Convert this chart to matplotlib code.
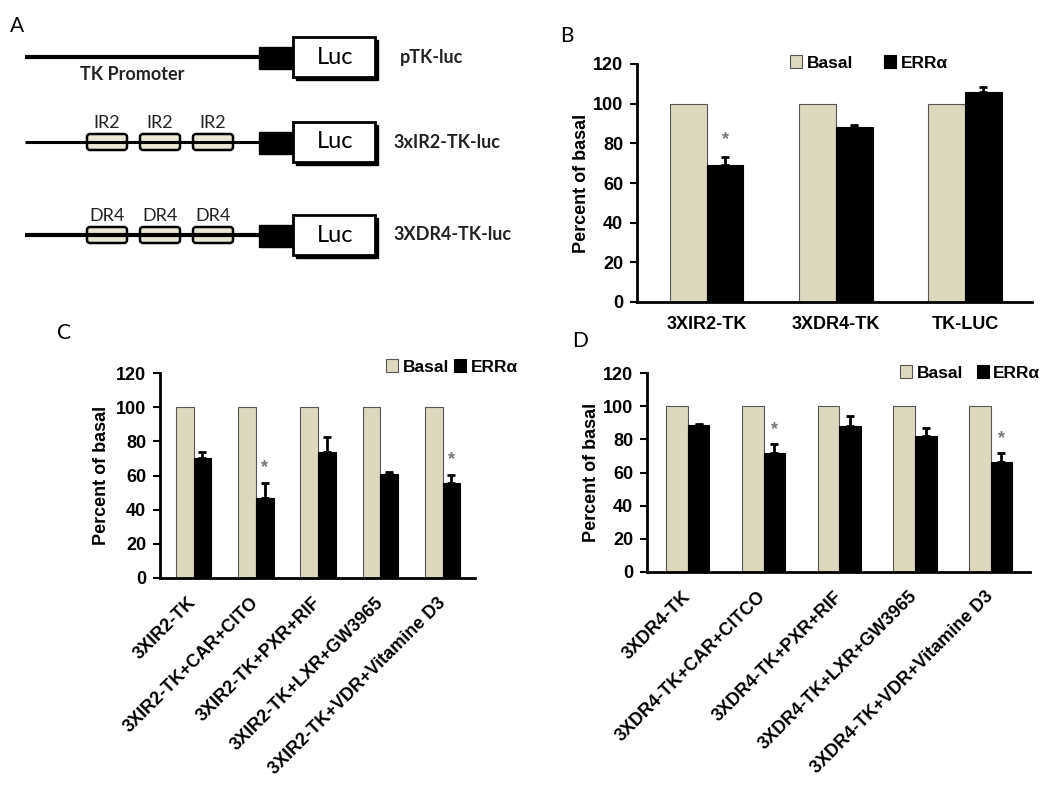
import matplotlib
matplotlib.use("Agg")
import matplotlib.pyplot as plt
from matplotlib.patches import Rectangle, FancyBboxPatch
import numpy as np

W, H = 1050, 792
plt.rcParams["font.family"] = ["Liberation Sans", "DejaVu Sans"]
plt.rcParams["font.weight"] = "bold"
plt.rcParams["axes.labelweight"] = "bold"

BASAL_C = "#DDD8C0"

# panel B
b_labels = ["3XIR2-TK", "3XDR4-TK", "TK-LUC"]
b_basal = [100, 100, 100]
b_err = [69, 88, 106]
b_sd = [4, 1, 2.5]
b_star = [True, False, False]

# panel C
c_labels = ["3XIR2-TK", "3XIR2-TK+CAR+CITO", "3XIR2-TK+PXR+RIF",
            "3XIR2-TK+LXR+GW3965", "3XIR2-TK+VDR+Vitamine D3"]
c_basal = [100, 100, 100, 100, 100]
c_err = [70, 47, 73.5, 61, 55.5]
c_sd = [3.5, 8.5, 9, 1, 5]
c_star = [False, True, False, False, True]

# panel D
d_labels = ["3XDR4-TK", "3XDR4-TK+CAR+CITCO", "3XDR4-TK+PXR+RIF",
            "3XDR4-TK+LXR+GW3965", "3XDR4-TK+VDR+Vitamine D3"]
d_basal = [100, 100, 100, 100, 100]
d_err = [88.5, 72, 88, 82, 66.5]
d_sd = [1, 5, 6, 5, 5]
d_star = [False, True, False, False, True]

# panel A constructs
constructs = ["pTK-luc", "3xIR2-TK-luc", "3XDR4-TK-luc"]
elements = [None, "IR2", "DR4"]

fig = plt.figure(figsize=(W / 100, H / 100), dpi=100)


def px_axes(l, t, r, b):
    return fig.add_axes([l / W, 1 - b / H, (r - l) / W, (b - t) / H])


# ---- panel A (schematic) drawn in pixel coordinates
axa = px_axes(0, 0, W, H)
axa.set_xlim(0, W)
axa.set_ylim(H, 0)
axa.axis("off")
afont = ["Lato", "DejaVu Sans"]
row_y = [57, 142, 235]
for k, (name, el) in enumerate(zip(constructs, elements)):
    y = row_y[k]
    axa.plot([25, 262], [y, y], color="black", lw=3 if k != 1 else 2.2,
             solid_capstyle="butt")
    axa.add_patch(Rectangle((259, y - 10), 34, 22, color="black"))
    axa.add_patch(Rectangle((296, y - 17), 82, 40, color="black"))
    axa.add_patch(Rectangle((293, y - 20), 82, 40, facecolor="white",
                            edgecolor="black", lw=2))
    axa.text(335, y, "Luc", ha="center", va="center", fontsize=17,
             family=afont, fontweight="normal")
    axa.text(400 if k == 0 else 393, y, name, ha="left", va="center",
             fontsize=13, family=afont, fontweight="bold", color="#222")
    if el:
        for x0 in [85, 138, 191]:
            axa.add_patch(FancyBboxPatch((x0 + 2, y - 8), 40, 16,
                                         boxstyle="round,pad=0,rounding_size=3",
                                         facecolor="#EAE6D6", edgecolor="black",
                                         lw=1.8))
            axa.text(x0 + 22, y - 19, el, ha="center", va="center",
                     fontsize=13, family=afont, fontweight="normal",
                     color="#222")
axa.text(80, 74, "TK Promoter", ha="left", va="center", fontsize=13,
         family=afont, fontweight="bold", color="#222")
for letter, (lx, ly) in zip("ABCD", [(17, 26), (567, 36), (64, 333), (580, 341)]):
    axa.text(lx, ly, letter, ha="center", va="center", fontsize=15,
             family=afont, fontweight="normal")


def bar_panel(ax, labels, basal, err, sd, star, fs, rot, leg_pos, colsp):
    n = len(labels)
    x = np.arange(n)
    w = 0.285
    ax.bar(x - w / 2, basal, w, color=BASAL_C, edgecolor="#555", lw=0.8,
           label="Basal", zorder=2)
    ax.bar(x + w / 2, err, w, color="black", edgecolor="black", lw=0.8,
           label="ERR\u03b1", zorder=2)
    ax.errorbar(x + w / 2, err, yerr=[np.zeros(n), sd], fmt="none",
                ecolor="black", elinewidth=2, capsize=3, capthick=2, zorder=3)
    for i in range(n):
        if star[i]:
            ax.text(x[i] + w / 2, err[i] + sd[i] + 9, "*", ha="center",
                    va="center", fontsize=13, color="#777")
    ax.set_xlim(-0.54, n - 1 + 0.52)
    ax.set_ylim(0, 120)
    ax.set_yticks(range(0, 121, 20))
    ax.spines[["top", "right"]].set_visible(False)
    ax.spines[["left", "bottom"]].set_linewidth(2)
    ax.tick_params(axis="y", length=5, width=1.5, labelsize=fs, pad=5)
    ax.tick_params(axis="x", length=0, labelsize=fs)
    ax.set_xticks(x)
    if rot:
        ax.set_xticklabels(labels, rotation=45, ha="right",
                           rotation_mode="anchor", va="center")
        ax.tick_params(axis="x", pad=16)
    else:
        ax.set_xticklabels(labels)
        ax.tick_params(axis="x", pad=10)
    ax.set_ylabel("Percent of basal", fontsize=fs, fontweight="bold")
    ax.legend(loc="center left", bbox_to_anchor=leg_pos, ncol=2, frameon=False,
              fontsize=fs - 0.5, handlelength=0.7, handleheight=0.7,
              handletextpad=0.25, columnspacing=colsp, borderaxespad=0,
              borderpad=0)


axb = px_axes(637, 64, 1032, 302)
bar_panel(axb, b_labels, b_basal, b_err, b_sd, b_star, 13, False,
          ((790 - 637) / 395, (302 - 63) / 238), 1.8)
axb.yaxis.labelpad = 2

axc = px_axes(160, 373, 475, 578)
bar_panel(axc, c_labels, c_basal, c_err, c_sd, c_star, 13, True,
          ((386 - 160) / 315, (578 - 367) / 205), 0.3)
axc.yaxis.labelpad = 4

axd = px_axes(647, 373, 1030, 572)
bar_panel(axd, d_labels, d_basal, d_err, d_sd, d_star, 13, True,
          ((900 - 647) / 383, (572 - 373) / 199), 0.8)
axd.yaxis.labelpad = 2

fig.savefig("out.png", dpi=100)
